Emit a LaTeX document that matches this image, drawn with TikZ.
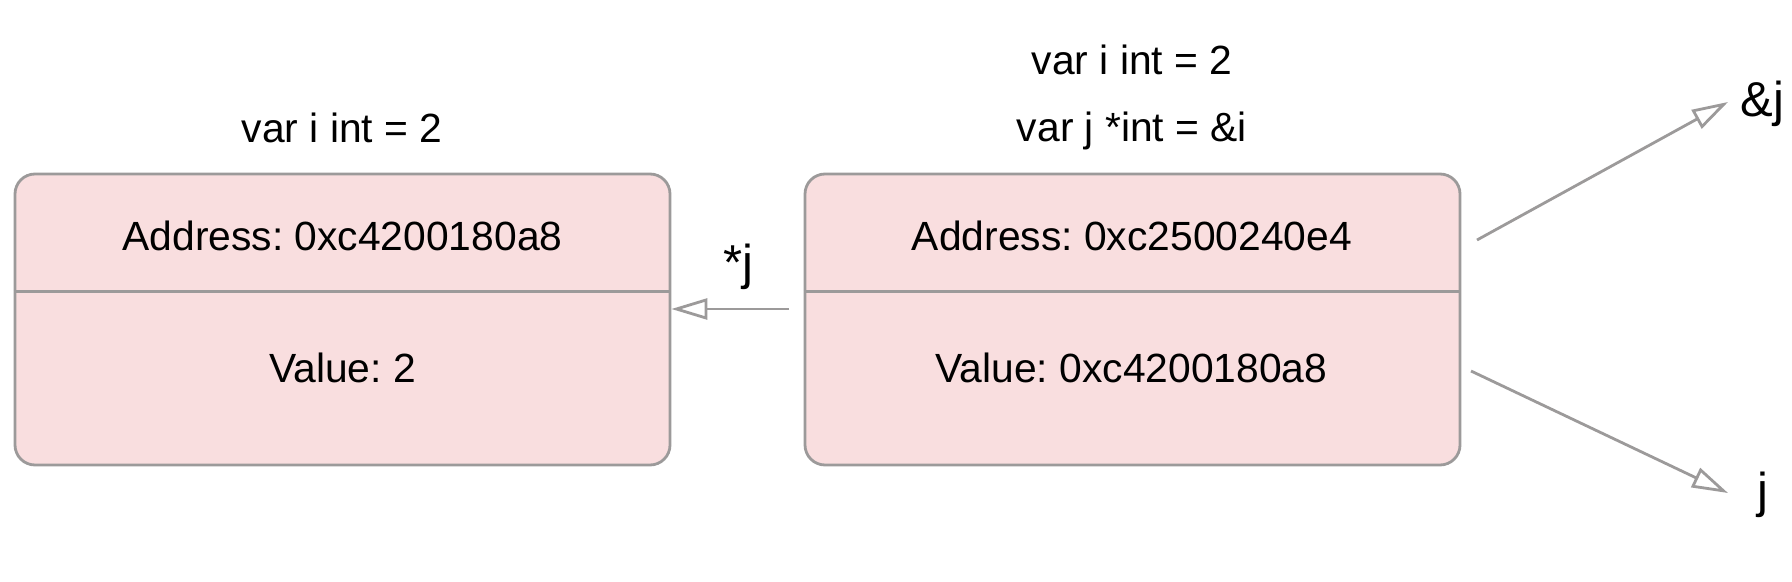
\documentclass[tikz,border=0pt]{standalone}
\usepackage{fontspec}
\setmainfont{Liberation Sans}
\usetikzlibrary{arrows.meta}
\definecolor{boxfill}{HTML}{F9DEDF}
\definecolor{boxline}{HTML}{9C9A9A}
\frenchspacing
\begin{document}
\begin{tikzpicture}[x=0.5pt,y=-0.5pt,
  membox/.style={draw=boxline, fill=boxfill, line width=1.4pt, rounded corners=10pt,
    minimum width=327.5pt, minimum height=145.5pt, inner sep=0pt},
  txt/.style={font=\fontsize{20.4}{24}\selectfont, anchor=base, inner sep=0pt},
  bigtxt/.style={font=\fontsize{24.5}{28}\selectfont, anchor=base west, inner sep=0pt},
  divline/.style={draw=boxline, line width=1.4pt},
  ptr/.style={draw=boxline, line width=1.4pt, -{Triangle[open, length=18pt, width=10.5pt, line width=1.4pt]}}]
\useasboundingbox (0,0) rectangle (1792,582);
% boxes
\node[membox] (lbox) at (342.5,319.5) {};
\node[membox] (rbox) at (1132.5,319.5) {};
\coordinate (ldiv) at (342.5,291.5);
\coordinate (rdiv) at (1132.5,291.5);
\draw[divline] (lbox.west |- ldiv) -- (lbox.east |- ldiv);
\draw[divline] (rbox.west |- rdiv) -- (rbox.east |- rdiv);
% labels
\node[txt] (ltitle) at (342,143) {var i int = 2};
\node[txt] (rtitle1) at (1132,75) {var i int = 2};
\node[txt] (rtitle2) at (1132,142) {var j *int = \&i};
\node[txt] (laddr) at (342.5,251) {Address: 0xc4200180a8};
\node[txt] (lval) at (342.5,382) {Value: 2};
\node[txt] (raddr) at (1132,251) {Address: 0xc2500240e4};
\node[txt] (rval) at (1131.5,382) {Value: 0xc4200180a8};
% pointer labels
\node[bigtxt] (deref) at (723,280) {*j};
\node[bigtxt] (addrj) at (1740,117) {\&j};
\node[bigtxt] (jlab) at (1757,507) {j};
% arrows
\coordinate (jstart) at (789,309);
\draw[ptr] (jstart) -- (lbox.east |- jstart);
\coordinate (ustart) at (1477,240);
\coordinate (uend) at (1728,102);
\draw[ptr] (ustart) -- (uend);
\coordinate (dstart) at (1471,371);
\coordinate (dend) at (1728,493);
\draw[ptr] (dstart) -- (dend);
\end{tikzpicture}
\end{document}
